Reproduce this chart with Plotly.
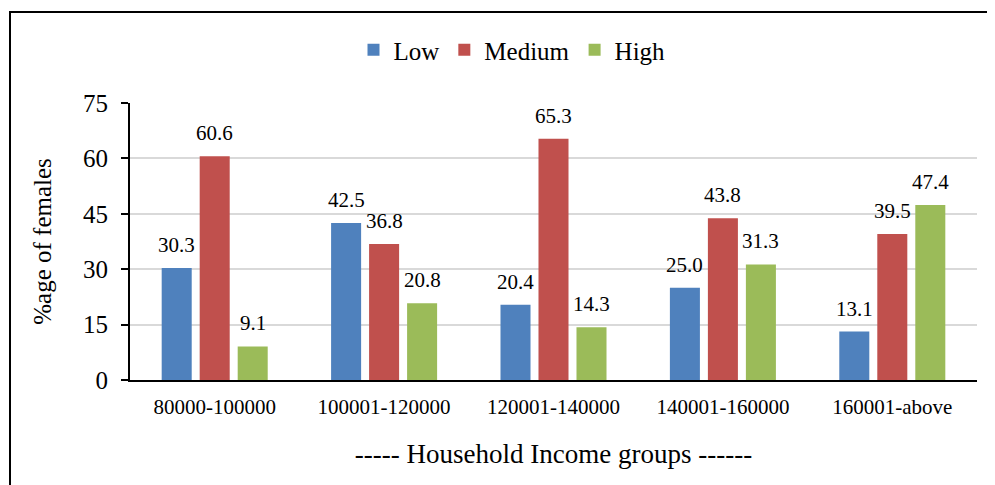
import plotly.graph_objects as go

categories = ["80000-100000", "100001-120000", "120001-140000", "140001-160000", "160001-above"]
series_names = ["Low", "Medium", "High"]
low = [30.3, 42.5, 20.4, 25.0, 13.1]
medium = [60.6, 36.8, 65.3, 43.8, 39.5]
high = [9.1, 20.8, 14.3, 31.3, 47.4]
y_ticks = [0, 15, 30, 45, 60, 75]

colors = ["#4F81BD", "#C0504D", "#9BBB59"]
FONT = "Liberation Serif"

fig = go.Figure()
all_vals = [low, medium, high]
for name, vals, col in zip(series_names, all_vals, colors):
    fig.add_trace(go.Bar(x=categories, y=vals, name=name, marker=dict(color=col, line=dict(width=0))))

# page body has an 8px margin, so the figure is laid out 8px up/left of the reference coordinates
S = 8
offsets = [-38, 0, 38]
for vals, off in zip(all_vals, offsets):
    for c, v in zip(categories, vals):
        fig.add_annotation(x=c, y=v, text=f"{v:.1f}", showarrow=False, xshift=off,
                           yanchor="bottom", yshift=9, font=dict(size=21, color="black", family=FONT))

W, H = 995, 485
L, T = 130 - S, 103 - S
pw, ph = 847, 277
R, B = W - L - pw, H - T - ph

fig.update_layout(
    width=W, height=H,
    margin=dict(l=L, r=R, t=T, b=B),
    paper_bgcolor="white", plot_bgcolor="white",
    barmode="group", bargap=0.327, bargroupgap=0.21,
    font=dict(family=FONT, color="black"),
    showlegend=True,
    legend=dict(orientation="h", x=(512 - S - L) / pw, xanchor="center", y=(T + ph - (50 - S)) / ph, yanchor="middle",
                font=dict(size=25, family=FONT), itemwidth=30, traceorder="normal"),
)
fig.update_yaxes(range=[0, 75], tickvals=y_ticks, showgrid=True, gridcolor="#D9D9D9", gridwidth=1.5,
                 showline=True, linecolor="black", linewidth=2, ticks="outside", ticklen=7, tickcolor="black",
                 tickwidth=2, tickfont=dict(size=25, family=FONT), zeroline=False, ticklabelstandoff=8,
                 title=dict(text="%age of females", font=dict(size=25, family=FONT), standoff=24))
fig.update_xaxes(showline=True, linecolor="black", linewidth=2, ticks="", tickfont=dict(size=21, family=FONT),
                 ticklabelstandoff=7,
                 title=dict(text="----- Household Income groups ------", font=dict(size=27, family=FONT), standoff=26))

# outer frame (extends beyond the visible picture to the right and bottom)
fig.add_shape(type="rect", xref="paper", yref="paper",
              x0=(10 - S - L) / pw, x1=1.2, y0=-0.6, y1=(T + ph - (12 - S)) / ph,
              line=dict(color="black", width=2), fillcolor="rgba(0,0,0,0)", layer="above")

fig.write_html("out.html")
